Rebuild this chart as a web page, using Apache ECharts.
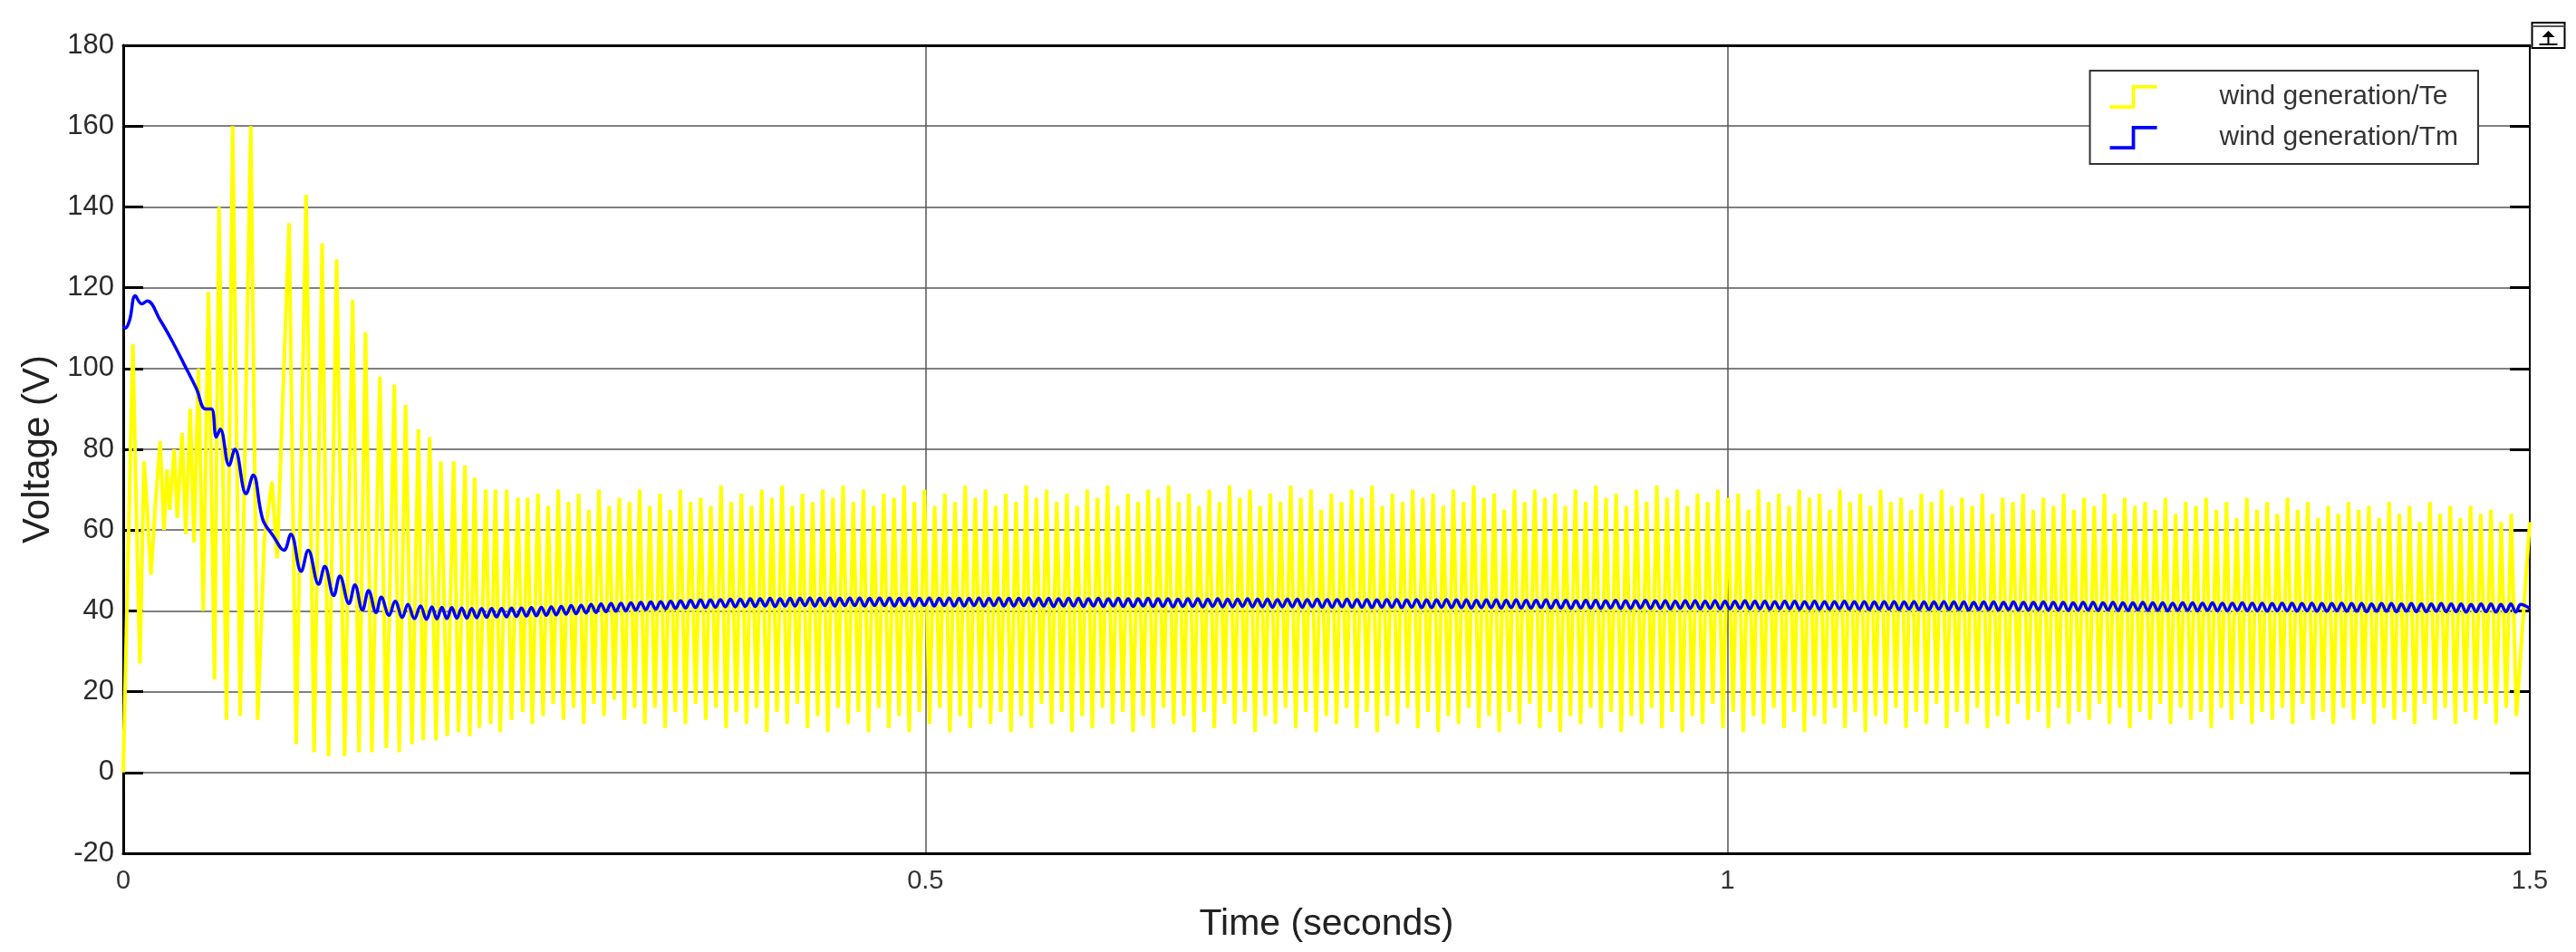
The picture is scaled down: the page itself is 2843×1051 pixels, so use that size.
<!DOCTYPE html>
<html>
<head>
<meta charset="utf-8">
<script src="https://cdn.jsdelivr.net/npm/echarts@6/dist/echarts.min.js"></script>
<style>
html,body{margin:0;padding:0;background:#fff;}
#chart{width:2843px;height:1051px;}
</style>
</head>
<body>
<div id="chart"></div>
<script>
// ---------------- DATA ----------------
const xTickLabels = ['0', '0.5', '1', '1.5'];
const seriesNames = ['wind generation/Te', 'wind generation/Tm'];

// Te (yellow): start-up transient, read point by point [time, value]
const teEarlyT = [0, 0.0060, 0.0079, 0.0104, 0.0130, 0.0145, 0.0173, 0.0200, 0.0230, 0.0254, 0.0273, 0.0290, 0.0318, 0.0337, 0.0367, 0.0390, 0.0418, 0.0441, 0.0469, 0.0499, 0.0531, 0.0569, 0.0597, 0.0644, 0.0682, 0.0729, 0.0795, 0.0838, 0.0880, 0.0927, 0.0959, 0.1034, 0.1078, 0.1140, 0.119, 0.124, 0.128, 0.133, 0.138, 0.143, 0.147, 0.151, 0.155, 0.160, 0.164, 0.169, 0.172, 0.176, 0.180, 0.184, 0.187, 0.191, 0.195, 0.198, 0.202, 0.206, 0.209, 0.213, 0.216, 0.219, 0.222, 0.226, 0.229, 0.232, 0.235, 0.239, 0.242, 0.246, 0.249, 0.252, 0.255];
const teEarlyV = [0, 106, 70, 27, 77, 68, 49, 66, 82, 60, 75, 65, 80, 63, 84, 59, 90, 57, 100, 40, 119, 23, 140, 13, 160, 14, 160, 13, 58, 72, 53, 136, 7, 143, 5, 131, 4, 127, 4, 117, 5, 109, 5, 98, 6, 96, 5, 91, 7, 85, 8, 83, 8, 77, 9, 77, 10, 76, 9, 73, 11, 70, 12, 70, 10, 70, 13, 68, 15, 68, 12];

// Te steady oscillation: one peak and one trough per cycle
const teStartT = 0.2585;
const tePeriod = 0.00634;
const tePeaks = [
  69,66,70,67,69,65,70,66,68,67, 70,66,69,65,70,67,68,66,71,67,
  69,66,70,68,71,66,69,67,70,68, 71,67,70,66,69,68,71,67,70,66,
  69,67,71,68,70,66,69,67,71,68, 70,67,69,66,70,68,71,66,69,67,
  70,68,71,67,69,66,70,67,71,68, 70,66,69,67,71,68,70,65,69,67,
  70,68,71,66,69,67,70,68,69,66, 70,67,71,68,69,65,70,67,70,68,
  69,66,70,67,71,68,69,66,70,67, 71,68,70,66,69,67,70,68,69,65,
  70,67,69,66,70,68,69,65,70,67, 69,66,70,67,68,65,69,67,70,66,
  68,66,69,64,68,67,69,65,68,66, 69,65,68,66,69,64,68,66,67,65,
  68,64,67,66,68,65,67,63,68,65, 67,64,68,65,67,63,66,64,67,65,
  66,63,67,64,66,62,67,64,66,63, 66,64,65,62,64
];
const teTroughs = [
  14,17,13,16,12,17,14,18,13,16, 12,16,11,15,12,17,13,16,11,15,
  12,16,10,15,12,17,11,14,10,16, 12,15,10,16,11,14,10,15,12,16,
  10,14,11,16,12,15,10,14,11,17, 12,15,10,14,11,16,12,15,10,14,
  11,16,12,14,10,15,11,17,12,15, 10,14,12,16,11,15,10,14,12,16,
  11,15,10,14,12,16,11,15,10,14, 12,16,11,14,10,15,12,17,11,15,
  10,14,12,16,11,15,10,14,12,16, 11,15,10,14,12,17,11,15,10,14,
  12,16,11,15,10,14,12,16,11,15, 10,14,12,16,11,15,12,17,11,15,
  12,16,11,14,12,17,13,15,11,16, 12,15,13,17,12,16,11,15,13,17,
  12,16,13,15,11,16,13,17,12,15, 13,16,12,17,13,15,12,16,13,17,
  12,16,13,15,12,17,13,16,12,15, 13,17,12,16,14
];
const teEnd = [1.5, 62];

// Tm (blue): start-up transient [time, value]
const tmEarlyT = [0, 0.0013, 0.0040, 0.0075, 0.0115, 0.0150, 0.0230, 0.0305, 0.0380, 0.0456, 0.0512, 0.0550, 0.0580, 0.0605, 0.0660, 0.0696, 0.0766, 0.0810, 0.0870, 0.0936, 0.1002, 0.1045, 0.1109, 0.1153, 0.1218, 0.1256, 0.1312, 0.1350, 0.1407, 0.1444, 0.1491, 0.1529, 0.1576, 0.1608, 0.1657, 0.1695, 0.1740, 0.1774, 0.1815, 0.1853, 0.1890, 0.1924];
const tmEarlyV = [110.6, 110, 112, 118, 116, 116.7, 112, 106.8, 101, 95, 90, 90, 83, 85, 76, 80, 69, 73.6, 62.6, 58.5, 55, 59, 49.8, 55, 46.6, 51, 43.8, 48.6, 41.8, 46.4, 40.2, 45, 39.6, 43.4, 38.9, 42.4, 38.4, 41.6, 38.1, 41.2, 37.9, 41];

// Tm steady ripple: one trough and one peak per cycle
const tmStartT = 0.1955;
const tmPeriod = 0.0062;
const tmTroughs = [
  38.0,38.1,38.2,38.2,38.3,38.4,38.5,38.5,38.6,38.7, 38.8,38.9,39.0,39.2,39.3,39.5,39.6,39.8,39.9,40.0,
  40.2,40.3,40.4,40.5,40.6,40.7,40.8,40.8,40.9,41.0, 41.0,41.1,41.1,41.2,41.1,41.2,41.2,41.3,41.2,41.3,
  41.2,41.3,41.3,41.2,41.3,41.3,41.2,41.3,41.2,41.3, 41.2,41.3,41.2,41.2,41.3,41.2,41.3,41.2,41.2,41.3,
  41.2,41.2,41.1,41.2,41.2,41.1,41.2,41.1,41.2,41.1, 41.1,41.2,41.1,41.1,41.0,41.1,41.1,41.0,41.1,41.0,
  41.0,41.1,41.0,41.0,40.9,41.0,41.0,40.9,41.0,40.9, 40.9,41.0,40.9,40.9,40.8,40.9,40.9,40.8,40.9,40.8,
  40.8,40.9,40.8,40.8,40.7,40.8,40.8,40.7,40.8,40.7, 40.7,40.8,40.7,40.7,40.6,40.7,40.7,40.6,40.7,40.6,
  40.6,40.7,40.6,40.6,40.5,40.6,40.6,40.5,40.6,40.5, 40.5,40.6,40.5,40.5,40.4,40.5,40.5,40.4,40.5,40.4,
  40.4,40.5,40.4,40.4,40.3,40.4,40.4,40.3,40.4,40.3, 40.3,40.4,40.3,40.3,40.2,40.3,40.3,40.2,40.3,40.2,
  40.2,40.3,40.2,40.2,40.1,40.2,40.2,40.1,40.2,40.1, 40.1,40.2,40.1,40.1,40.0,40.1,40.1,40.0,40.1,40.0,
  40.0,40.1,40.0,40.0,39.9,40.0,40.0,39.9,40.0,39.9, 39.9,40.0,39.9,39.9,39.8,39.9,39.9,39.8,39.9,39.8,
  39.8,39.9,39.8,39.8,39.7,39.8,39.8,39.7,39.8,39.7
];
const tmPeaks = [
  40.9,40.8,40.7,40.6,40.6,40.6,40.6,40.7,40.7,40.8, 40.9,41.0,41.1,41.3,41.4,41.6,41.7,41.8,41.9,42.0,
  42.1,42.2,42.3,42.4,42.5,42.6,42.7,42.7,42.8,42.9, 42.9,43.0,43.0,43.1,43.0,43.1,43.1,43.2,43.1,43.2,
  43.1,43.2,43.2,43.1,43.2,43.2,43.1,43.2,43.1,43.2, 43.1,43.2,43.1,43.1,43.2,43.1,43.2,43.1,43.1,43.2,
  43.1,43.1,43.0,43.1,43.1,43.0,43.1,43.0,43.1,43.0, 43.0,43.1,43.0,43.0,42.9,43.0,43.0,42.9,43.0,42.9,
  42.9,43.0,42.9,42.9,42.8,42.9,42.9,42.8,42.9,42.8, 42.8,42.9,42.8,42.8,42.7,42.8,42.8,42.7,42.8,42.7,
  42.7,42.8,42.7,42.7,42.6,42.7,42.7,42.6,42.7,42.6, 42.6,42.7,42.6,42.6,42.5,42.6,42.6,42.5,42.6,42.5,
  42.5,42.6,42.5,42.5,42.4,42.5,42.5,42.4,42.5,42.4, 42.4,42.5,42.4,42.4,42.3,42.4,42.4,42.3,42.4,42.3,
  42.3,42.4,42.3,42.3,42.2,42.3,42.3,42.2,42.3,42.2, 42.2,42.3,42.2,42.2,42.1,42.2,42.2,42.1,42.2,42.1,
  42.1,42.2,42.1,42.1,42.0,42.1,42.1,42.0,42.1,42.0, 42.0,42.1,42.0,42.0,41.9,42.0,42.0,41.9,42.0,41.9,
  41.9,42.0,41.9,41.9,41.8,41.9,41.9,41.8,41.9,41.8, 41.8,41.9,41.8,41.8,41.7,41.8,41.8,41.7,41.8,41.7,
  41.7,41.8,41.7,41.7,41.6,41.7,41.7,41.6,41.7,41.6
];
const tmEnd = [1.5, 40.6];

// ---------------- BUILD SERIES POINTS ----------------
function buildTe() {
  const pts = teEarlyT.map((t, i) => [t, teEarlyV[i]]);
  for (let i = 0; i < tePeaks.length; i++) {
    const t = teStartT + i * tePeriod;
    pts.push([t, tePeaks[i]]);
    pts.push([t + tePeriod / 2, teTroughs[i]]);
  }
  pts.push(teEnd);
  return pts.filter(p => p[0] <= 1.5);
}
function buildTm() {
  const pts = tmEarlyT.map((t, i) => [t, tmEarlyV[i]]);
  for (let i = 0; i < tmTroughs.length; i++) {
    const t = tmStartT + i * tmPeriod;
    pts.push([t, tmTroughs[i]]);
    pts.push([t + tmPeriod / 2, tmPeaks[i]]);
  }
  pts.push(tmEnd);
  return pts.filter(p => p[0] <= 1.5);
}

const stepIcon = 'path://M0,24 L26,24 L26,0 L56,0 L56,4 L30,4 L30,28 L0,28 Z';
const FONT = '"Liberation Sans", Arial, Helvetica, sans-serif';

const chart = echarts.init(document.getElementById('chart'), null, {renderer: 'canvas'});
chart.setOption({
  animation: false,
  backgroundColor: '#ffffff',
  textStyle: {fontFamily: FONT},
  grid: {left: 136, right: 51, top: 50, bottom: 109, containLabel: false},
  legend: {
    orient: 'vertical',
    right: 108,
    top: 78,
    itemWidth: 56,
    itemHeight: 26,
    itemGap: 15,
    backgroundColor: '#ffffff',
    borderColor: '#333333',
    borderWidth: 2,
    padding: [14, 22, 14, 22],
    textStyle: {fontSize: 30, color: '#333333', fontFamily: FONT, padding: [0, 0, 0, 62]},
    data: [
      {name: seriesNames[0], icon: stepIcon, itemStyle: {color: '#ffff00'}},
      {name: seriesNames[1], icon: stepIcon, itemStyle: {color: '#0000ff'}}
    ]
  },
  xAxis: [{
    type: 'value', min: 0, max: 1.5, interval: 0.5,
    axisLine: {show: true, onZero: false, lineStyle: {color: '#000', width: 3}},
    axisTick: {show: false},
    axisLabel: {fontSize: 29, color: '#333', margin: 16, fontFamily: FONT,
      formatter: (v) => xTickLabels[Math.round(v / 0.5)]},
    splitLine: {show: true, lineStyle: {color: '#555555', width: 1.5}},
    name: 'Time (seconds)', nameLocation: 'middle', nameGap: 58,
    nameTextStyle: {fontSize: 41, color: '#222', fontFamily: FONT}
  }, {
    type: 'value', position: 'top', min: 0, max: 1.5, interval: 0.5,
    axisLine: {show: true, onZero: false, lineStyle: {color: '#000', width: 3}},
    axisTick: {show: false}, axisLabel: {show: false}, splitLine: {show: false}
  }],
  yAxis: [{
    type: 'value', min: -20, max: 180, interval: 20,
    axisLine: {show: true, onZero: false, lineStyle: {color: '#000', width: 3}},
    axisTick: {show: true, inside: true, length: 22, lineStyle: {color: '#000', width: 3}},
    axisLabel: {fontSize: 31, color: '#2a2a2a', margin: 10, fontFamily: FONT},
    splitLine: {show: true, lineStyle: {color: '#808080', width: 2}},
    name: 'Voltage (V)', nameLocation: 'middle', nameGap: 70,
    nameTextStyle: {fontSize: 42, color: '#222', fontFamily: FONT}
  }, {
    type: 'value', position: 'right', min: -20, max: 180, interval: 20,
    axisLine: {show: true, onZero: false, lineStyle: {color: '#000', width: 2}},
    axisTick: {show: true, inside: true, length: 22, lineStyle: {color: '#000', width: 3}},
    axisLabel: {show: false}, splitLine: {show: false}
  }],
  series: [{
    name: seriesNames[0], type: 'line', xAxisIndex: 0, yAxisIndex: 0,
    data: buildTe(), showSymbol: false, symbol: 'none', smooth: false,
    lineStyle: {color: '#ffff00', width: 4}, itemStyle: {color: '#ffff00'},
    z: 2
  }, {
    name: seriesNames[1], type: 'line', xAxisIndex: 0, yAxisIndex: 0,
    data: buildTm(), showSymbol: false, symbol: 'none', smooth: 0.4,
    lineStyle: {color: '#0000ff', width: 3.5}, itemStyle: {color: '#0000ff'},
    z: 3
  }],
  graphic: [{
    type: 'group', left: 2792, top: 24,
    children: [
      {type: 'rect', shape: {x: 0, y: 0, width: 36, height: 28}, style: {fill: '#fff', stroke: '#000', lineWidth: 2}},
      {type: 'line', shape: {x1: 0, y1: 4, x2: 36, y2: 4}, style: {stroke: '#555', lineWidth: 2}},
      {type: 'line', shape: {x1: 8, y1: 24, x2: 28, y2: 24}, style: {stroke: '#000', lineWidth: 2}},
      {type: 'line', shape: {x1: 18, y1: 10, x2: 18, y2: 24}, style: {stroke: '#000', lineWidth: 2}},
      {type: 'polygon', shape: {points: [[11, 16], [18, 9], [25, 16]]}, style: {fill: '#000'}}
    ]
  }]
});
</script>
</body>
</html>
